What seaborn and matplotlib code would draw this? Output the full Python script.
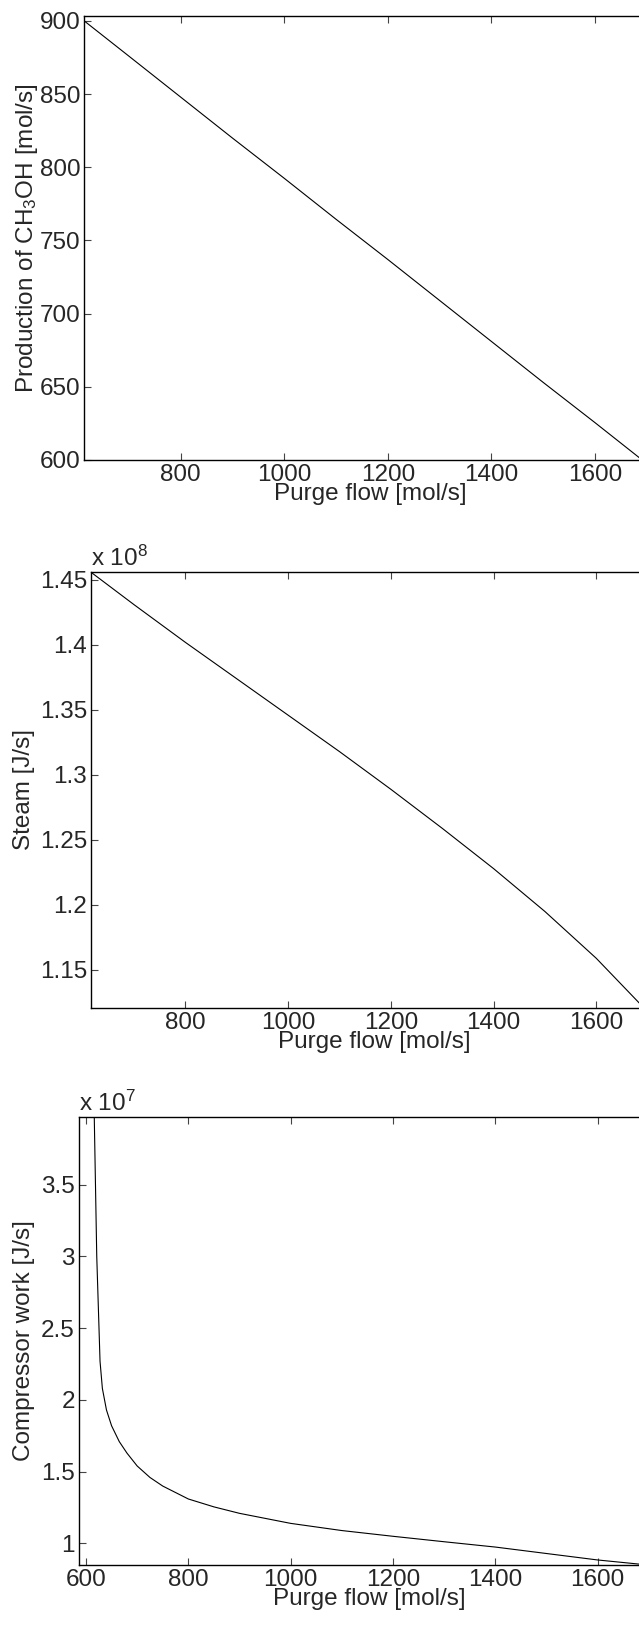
import numpy as np
import pandas as pd
import matplotlib
matplotlib.use("Agg")
import matplotlib.pyplot as plt
from matplotlib.ticker import MultipleLocator, FuncFormatter
import seaborn as sns

# Methanol production vs purge flow
purge_prod = [614, 700, 800, 900, 1000, 1100, 1200, 1300, 1400, 1500, 1600, 1700, 1720]
production = [900, 876, 848, 820, 792.5, 764.5, 737, 709, 681, 653, 625.5, 597.5, 592]

# Steam generation vs purge flow [J/s]
purge_steam = [616, 700, 800, 900, 1000, 1100, 1200, 1300, 1400, 1500, 1600, 1690, 1720]
steam = [1.456e8, 1.431e8, 1.402e8, 1.374e8, 1.346e8, 1.318e8, 1.289e8, 1.259e8, 1.228e8,
         1.195e8, 1.159e8, 1.122e8, 1.109e8]

# Compressor work vs purge flow [J/s]
purge_comp = [614, 616, 621, 625.4, 627.4, 632, 640, 650, 665, 680, 700, 725, 750, 800,
              850, 900, 1000, 1100, 1200, 1300, 1400, 1500, 1600, 1690, 1720]
comp_work = [4.6e7, 4.0e7, 3.0e7, 2.5e7, 2.27e7, 2.08e7, 1.93e7, 1.82e7, 1.71e7, 1.63e7,
             1.54e7, 1.46e7, 1.40e7, 1.31e7, 1.255e7, 1.21e7, 1.14e7, 1.09e7, 1.05e7,
             1.012e7, 0.975e7, 0.93e7, 0.885e7, 0.853e7, 0.843e7]

sns.set_style("ticks")
plt.rcParams["font.family"] = ["Liberation Sans", "DejaVu Sans"]
plt.rcParams["mathtext.fontset"] = "custom"
plt.rcParams["mathtext.rm"] = "Liberation Sans"
plt.rcParams["mathtext.it"] = "Liberation Sans"
plt.rcParams["mathtext.default"] = "regular"

W, H = 639, 1626
fig = plt.figure(figsize=(W / 100, H / 100), dpi=100)


def add_axes(left, top, bottom, right):
    return fig.add_axes([left / W, 1 - bottom / H, (right - left) / W, (bottom - top) / H])


FS = 17.5


def style(ax, xlim, ylim, ystep, ylabel, label_x, yfmt=None, offset=None):
    ax.set_xlim(*xlim)
    ax.set_ylim(*ylim)
    ax.xaxis.set_major_locator(MultipleLocator(200))
    ax.yaxis.set_major_locator(MultipleLocator(ystep))
    if yfmt is not None:
        ax.yaxis.set_major_formatter(FuncFormatter(yfmt))
    ax.tick_params(direction="in", top=True, right=True, length=5, width=0.8,
                   color="#444444", labelsize=FS, pad=3)
    for s in ax.spines.values():
        s.set_linewidth(1.0)
        s.set_color("black")
    ax.set_xlabel("Purge flow [mol/s]", fontsize=FS, labelpad=-2)
    bb = ax.get_position()
    fig.text(label_x / W, (bb.y0 + bb.y1) / 2, ylabel, rotation=90, fontsize=FS,
             ha="center", va="center")
    if offset:
        ax.text(0, 1.003, offset, transform=ax.transAxes, fontsize=FS,
                ha="left", va="bottom")


# Panel 1
ax1 = add_axes(84.3, 16.3, 460, 657.2)
sns.lineplot(x=purge_prod, y=production, ax=ax1, color="black", lw=0.8)
style(ax1, (614, 1720), (600, 903.2), 50, "Production of CH$_3$OH [mol/s]", 27)

# Panel 2
ax2 = add_axes(91.3, 571.8, 1007.7, 657.9)
sns.lineplot(x=purge_steam, y=steam, ax=ax2, color="black", lw=0.8)
style(ax2, (616.7, 1720), (1.121e8, 1.4563e8), 0.05e8, "Steam [J/s]", 24,
      yfmt=lambda v, p: f"{v / 1e8:g}", offset="x 10$^{8}$")

# Panel 3
ax3 = add_axes(79, 1117.3, 1564.7, 659)
sns.lineplot(x=purge_comp, y=comp_work, ax=ax3, color="black", lw=0.8)
style(ax3, (586.3, 1720), (0.852e7, 3.97e7), 0.5e7, "Compressor work [J/s]", 24,
      yfmt=lambda v, p: f"{v / 1e7:g}", offset="x 10$^{7}$")

fig.savefig("out.png", dpi=100, facecolor="white")
